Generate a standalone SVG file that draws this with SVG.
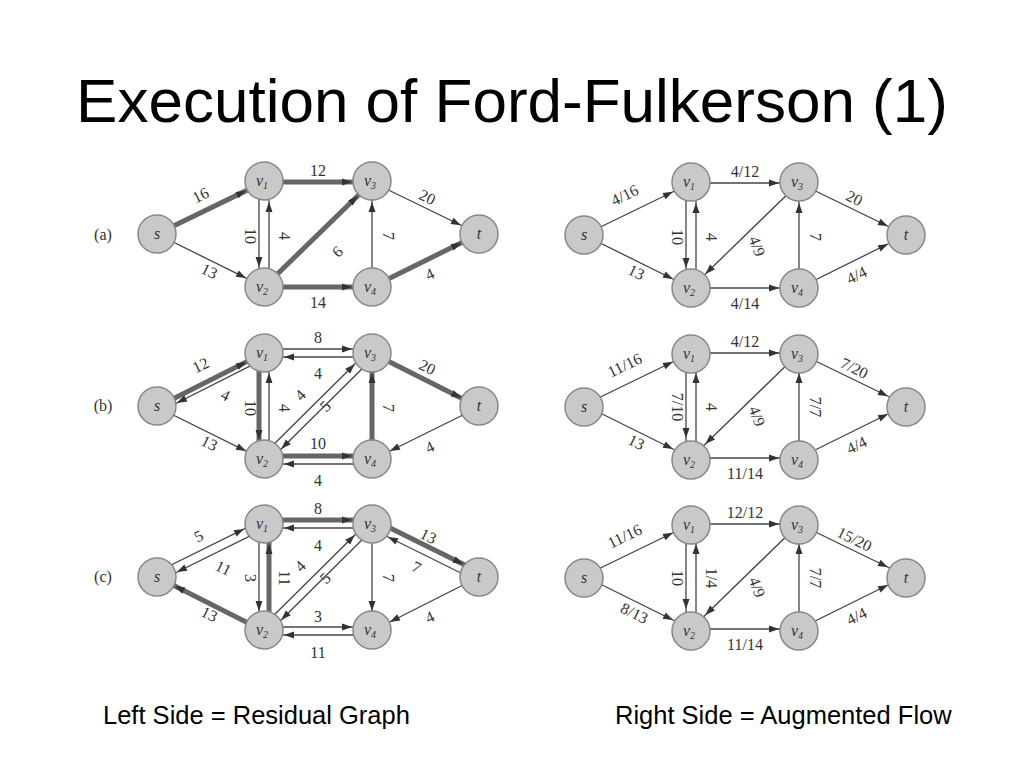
<svg xmlns="http://www.w3.org/2000/svg" width="1024" height="768" viewBox="0 0 1024 768">
<style>
.e{stroke:#444;stroke-width:1.3;fill:none;marker-end:url(#a)}
.h{stroke:#666;stroke-width:5;fill:none;marker-end:url(#a)}
.n{fill:#c9c9c9;stroke:#888;stroke-width:1.5}
.nl{font-family:"Liberation Serif",serif;font-style:italic;font-size:16px;fill:#333;text-anchor:middle}
.l{font-family:"Liberation Serif",serif;font-size:16px;fill:#333;text-anchor:middle}
.t{font-family:"Liberation Sans",Arial,sans-serif;fill:#000}
</style>
<defs>
<marker id="a" viewBox="-40 -6 40 12" refX="0" refY="0" markerWidth="40" markerHeight="12" markerUnits="userSpaceOnUse" orient="auto"><path d="M-30,-3.5 L-20,0 L-30,3.5 z" fill="#333"/></marker>
<g id="nodesA">
<circle class="n" cx="157" cy="0" r="19"/><text class="nl" x="157" y="5">s</text>
<circle class="n" cx="264" cy="-53" r="19"/><text class="nl" x="262" y="-48">v<tspan font-size="10" dy="3">1</tspan></text>
<circle class="n" cx="372" cy="-53" r="19"/><text class="nl" x="370" y="-48">v<tspan font-size="10" dy="3">3</tspan></text>
<circle class="n" cx="479" cy="0" r="19"/><text class="nl" x="479" y="5">t</text>
<circle class="n" cx="264" cy="53" r="19"/><text class="nl" x="262" y="58">v<tspan font-size="10" dy="3">2</tspan></text>
<circle class="n" cx="372" cy="53" r="19"/><text class="nl" x="370" y="58">v<tspan font-size="10" dy="3">4</tspan></text>
</g>
</defs>
<text class="t" x="512" y="122" font-size="62" text-anchor="middle">Execution of Ford-Fulkerson (1)</text>
<g class="l">
<text x="103" y="240">(a)</text><text x="103" y="411">(b)</text><text x="103" y="582">(c)</text>
</g>

<g id="connectors">
<line class="h" x1="157" y1="234" x2="264" y2="182"/>
<line class="e" x1="157" y1="234" x2="264" y2="287"/>
<line class="e" x1="259" y1="182" x2="259" y2="287"/>
<line class="e" x1="269" y1="287" x2="269" y2="182"/>
<line class="h" x1="264" y1="182" x2="372" y2="182"/>
<line class="h" x1="264" y1="287" x2="372" y2="182"/>
<line class="e" x1="372" y1="287" x2="372" y2="182"/>
<line class="e" x1="372" y1="182" x2="479" y2="234"/>
<line class="h" x1="264" y1="287" x2="372" y2="287"/>
<line class="h" x1="372" y1="287" x2="479" y2="234"/>
<line class="h" x1="157" y1="407" x2="264" y2="353"/>
<line class="e" x1="266" y1="358" x2="159" y2="412"/>
<line class="e" x1="157" y1="407" x2="264" y2="460"/>
<line class="h" x1="259" y1="353" x2="259" y2="460"/>
<line class="e" x1="269" y1="460" x2="269" y2="353"/>
<line class="e" x1="264" y1="349" x2="372" y2="349"/>
<line class="e" x1="372" y1="357" x2="264" y2="357"/>
<line class="e" x1="261" y1="457" x2="369" y2="350"/>
<line class="e" x1="375" y1="356" x2="267" y2="463"/>
<line class="h" x1="372" y1="460" x2="372" y2="353"/>
<line class="h" x1="372" y1="353" x2="479" y2="407"/>
<line class="e" x1="479" y1="407" x2="372" y2="460"/>
<line class="h" x1="264" y1="456" x2="372" y2="456"/>
<line class="e" x1="372" y1="464" x2="264" y2="464"/>
<line class="e" x1="155" y1="573" x2="262" y2="520"/>
<line class="e" x1="266" y1="528" x2="159" y2="581"/>
<line class="h" x1="264" y1="631" x2="157" y2="577"/>
<line class="e" x1="259" y1="524" x2="259" y2="631"/>
<line class="h" x1="269" y1="631" x2="269" y2="524"/>
<line class="h" x1="264" y1="520" x2="372" y2="520"/>
<line class="e" x1="372" y1="528" x2="264" y2="528"/>
<line class="e" x1="261" y1="628" x2="369" y2="521"/>
<line class="e" x1="375" y1="527" x2="267" y2="634"/>
<line class="e" x1="372" y1="524" x2="372" y2="631"/>
<line class="h" x1="374" y1="520" x2="481" y2="573"/>
<line class="e" x1="477" y1="581" x2="370" y2="528"/>
<line class="e" x1="479" y1="577" x2="372" y2="631"/>
<line class="e" x1="264" y1="627" x2="372" y2="627"/>
<line class="e" x1="372" y1="635" x2="264" y2="635"/>
<g transform="translate(427,1)">
<line class="e" x1="157" y1="234" x2="264" y2="182"/>
<line class="e" x1="157" y1="234" x2="264" y2="287"/>
<line class="e" x1="259" y1="182" x2="259" y2="287"/>
<line class="e" x1="269" y1="287" x2="269" y2="182"/>
<line class="e" x1="264" y1="182" x2="372" y2="182"/>
<line class="e" x1="372" y1="182" x2="264" y2="287"/>
<line class="e" x1="372" y1="287" x2="372" y2="182"/>
<line class="e" x1="372" y1="182" x2="479" y2="234"/>
<line class="e" x1="264" y1="287" x2="372" y2="287"/>
<line class="e" x1="372" y1="287" x2="479" y2="234"/>
</g>
<g transform="translate(427,171)">
<line class="e" x1="157" y1="234" x2="264" y2="182"/>
<line class="e" x1="157" y1="234" x2="264" y2="287"/>
<line class="e" x1="259" y1="182" x2="259" y2="287"/>
<line class="e" x1="269" y1="287" x2="269" y2="182"/>
<line class="e" x1="264" y1="182" x2="372" y2="182"/>
<line class="e" x1="372" y1="182" x2="264" y2="287"/>
<line class="e" x1="372" y1="287" x2="372" y2="182"/>
<line class="e" x1="372" y1="182" x2="479" y2="234"/>
<line class="e" x1="264" y1="287" x2="372" y2="287"/>
<line class="e" x1="372" y1="287" x2="479" y2="234"/>
</g>
<g transform="translate(427,342)">
<line class="e" x1="157" y1="234" x2="264" y2="182"/>
<line class="e" x1="157" y1="234" x2="264" y2="287"/>
<line class="e" x1="259" y1="182" x2="259" y2="287"/>
<line class="e" x1="269" y1="287" x2="269" y2="182"/>
<line class="e" x1="264" y1="182" x2="372" y2="182"/>
<line class="e" x1="372" y1="182" x2="264" y2="287"/>
<line class="e" x1="372" y1="287" x2="372" y2="182"/>
<line class="e" x1="372" y1="182" x2="479" y2="234"/>
<line class="e" x1="264" y1="287" x2="372" y2="287"/>
<line class="e" x1="372" y1="287" x2="479" y2="234"/>
</g>
</g>

<g id="nodes-left-a"><use href="#nodesA" y="234"/></g>
<g id="nodes-left-b"><use href="#nodesA" y="406"/></g>
<g id="nodes-left-c"><use href="#nodesA" y="577"/></g>
<g id="nodes-right-a"><use href="#nodesA" x="427" y="235"/></g>
<g id="nodes-right-b"><use href="#nodesA" x="427" y="407"/></g>
<g id="nodes-right-c"><use href="#nodesA" x="427" y="578"/></g>

<g id="labels" class="l">
<text transform="translate(203,200) rotate(-26)">16</text>
<text transform="translate(207,276) rotate(26)">13</text>
<text transform="translate(245,236) rotate(90)">10</text>
<text transform="translate(279,236) rotate(90)">4</text>
<text x="318" y="176">12</text>
<text transform="translate(334,248) rotate(135)">9</text>
<text transform="translate(383,236) rotate(90)">7</text>
<text transform="translate(425,202) rotate(26)">20</text>
<text x="318" y="308">14</text>
<text transform="translate(432,279) rotate(-26)">4</text>
<text transform="translate(203,370) rotate(-26)">12</text>
<text transform="translate(223,400) rotate(26)">4</text>
<text transform="translate(207,448) rotate(26)">13</text>
<text transform="translate(245,408) rotate(90)">10</text>
<text transform="translate(279,408) rotate(90)">4</text>
<text x="318" y="343">8</text>
<text x="318" y="379">4</text>
<text transform="translate(304,399) rotate(-45)">4</text>
<text transform="translate(329,410) rotate(-45)">5</text>
<text transform="translate(383,408) rotate(90)">7</text>
<text transform="translate(425,372) rotate(26)">20</text>
<text transform="translate(432,452) rotate(-26)">4</text>
<text x="318" y="449">10</text>
<text x="318" y="486">4</text>
<text transform="translate(201,541) rotate(-26)">5</text>
<text transform="translate(221,573) rotate(26)">11</text>
<text transform="translate(207,619) rotate(26)">13</text>
<text transform="translate(245,578) rotate(90)">3</text>
<text transform="translate(279,578) rotate(90)">11</text>
<text x="318" y="514">8</text>
<text x="318" y="551">4</text>
<text transform="translate(304,570) rotate(-45)">4</text>
<text transform="translate(329,582) rotate(-45)">5</text>
<text transform="translate(383,578) rotate(90)">7</text>
<text transform="translate(426,541) rotate(26)">13</text>
<text transform="translate(414,572) rotate(26)">7</text>
<text transform="translate(432,622) rotate(-26)">4</text>
<text x="318" y="622">3</text>
<text x="318" y="658">11</text>
<g transform="translate(427,1)">
<text transform="translate(200,199) rotate(-26)">4/16</text>
<text transform="translate(207,276) rotate(26)">13</text>
<text transform="translate(245,236) rotate(90)">10</text>
<text transform="translate(279,236) rotate(90)">4</text>
<text x="318" y="176">4/12</text>
<text transform="translate(325,247) rotate(70)">4/9</text>
<text transform="translate(383,236) rotate(90)">7</text>
<text transform="translate(425,202) rotate(26)">20</text>
<text x="318" y="308">4/14</text>
<text transform="translate(432,279) rotate(-26)">4/4</text>
</g>
<g transform="translate(427,171)">
<text transform="translate(200,199) rotate(-26)">11/16</text>
<text transform="translate(207,276) rotate(26)">13</text>
<text transform="translate(245,236) rotate(90)">7/10</text>
<text transform="translate(279,236) rotate(90)">4</text>
<text x="318" y="176">4/12</text>
<text transform="translate(325,247) rotate(70)">4/9</text>
<text transform="translate(383,236) rotate(90)">7/7</text>
<text transform="translate(425,202) rotate(26)">7/20</text>
<text x="318" y="308">11/14</text>
<text transform="translate(432,279) rotate(-26)">4/4</text>
</g>
<g transform="translate(427,342)">
<text transform="translate(200,199) rotate(-26)">11/16</text>
<text transform="translate(205,276) rotate(26)">8/13</text>
<text transform="translate(245,236) rotate(90)">10</text>
<text transform="translate(279,236) rotate(90)">1/4</text>
<text x="318" y="176">12/12</text>
<text transform="translate(325,247) rotate(70)">4/9</text>
<text transform="translate(383,236) rotate(90)">7/7</text>
<text transform="translate(425,202) rotate(26)">15/20</text>
<text x="318" y="308">11/14</text>
<text transform="translate(432,279) rotate(-26)">4/4</text>
</g>
</g>

<text class="t" x="103" y="724" font-size="25.5">Left Side = Residual Graph</text>
<text class="t" x="615" y="724" font-size="25.5">Right Side = Augmented Flow</text>
</svg>
